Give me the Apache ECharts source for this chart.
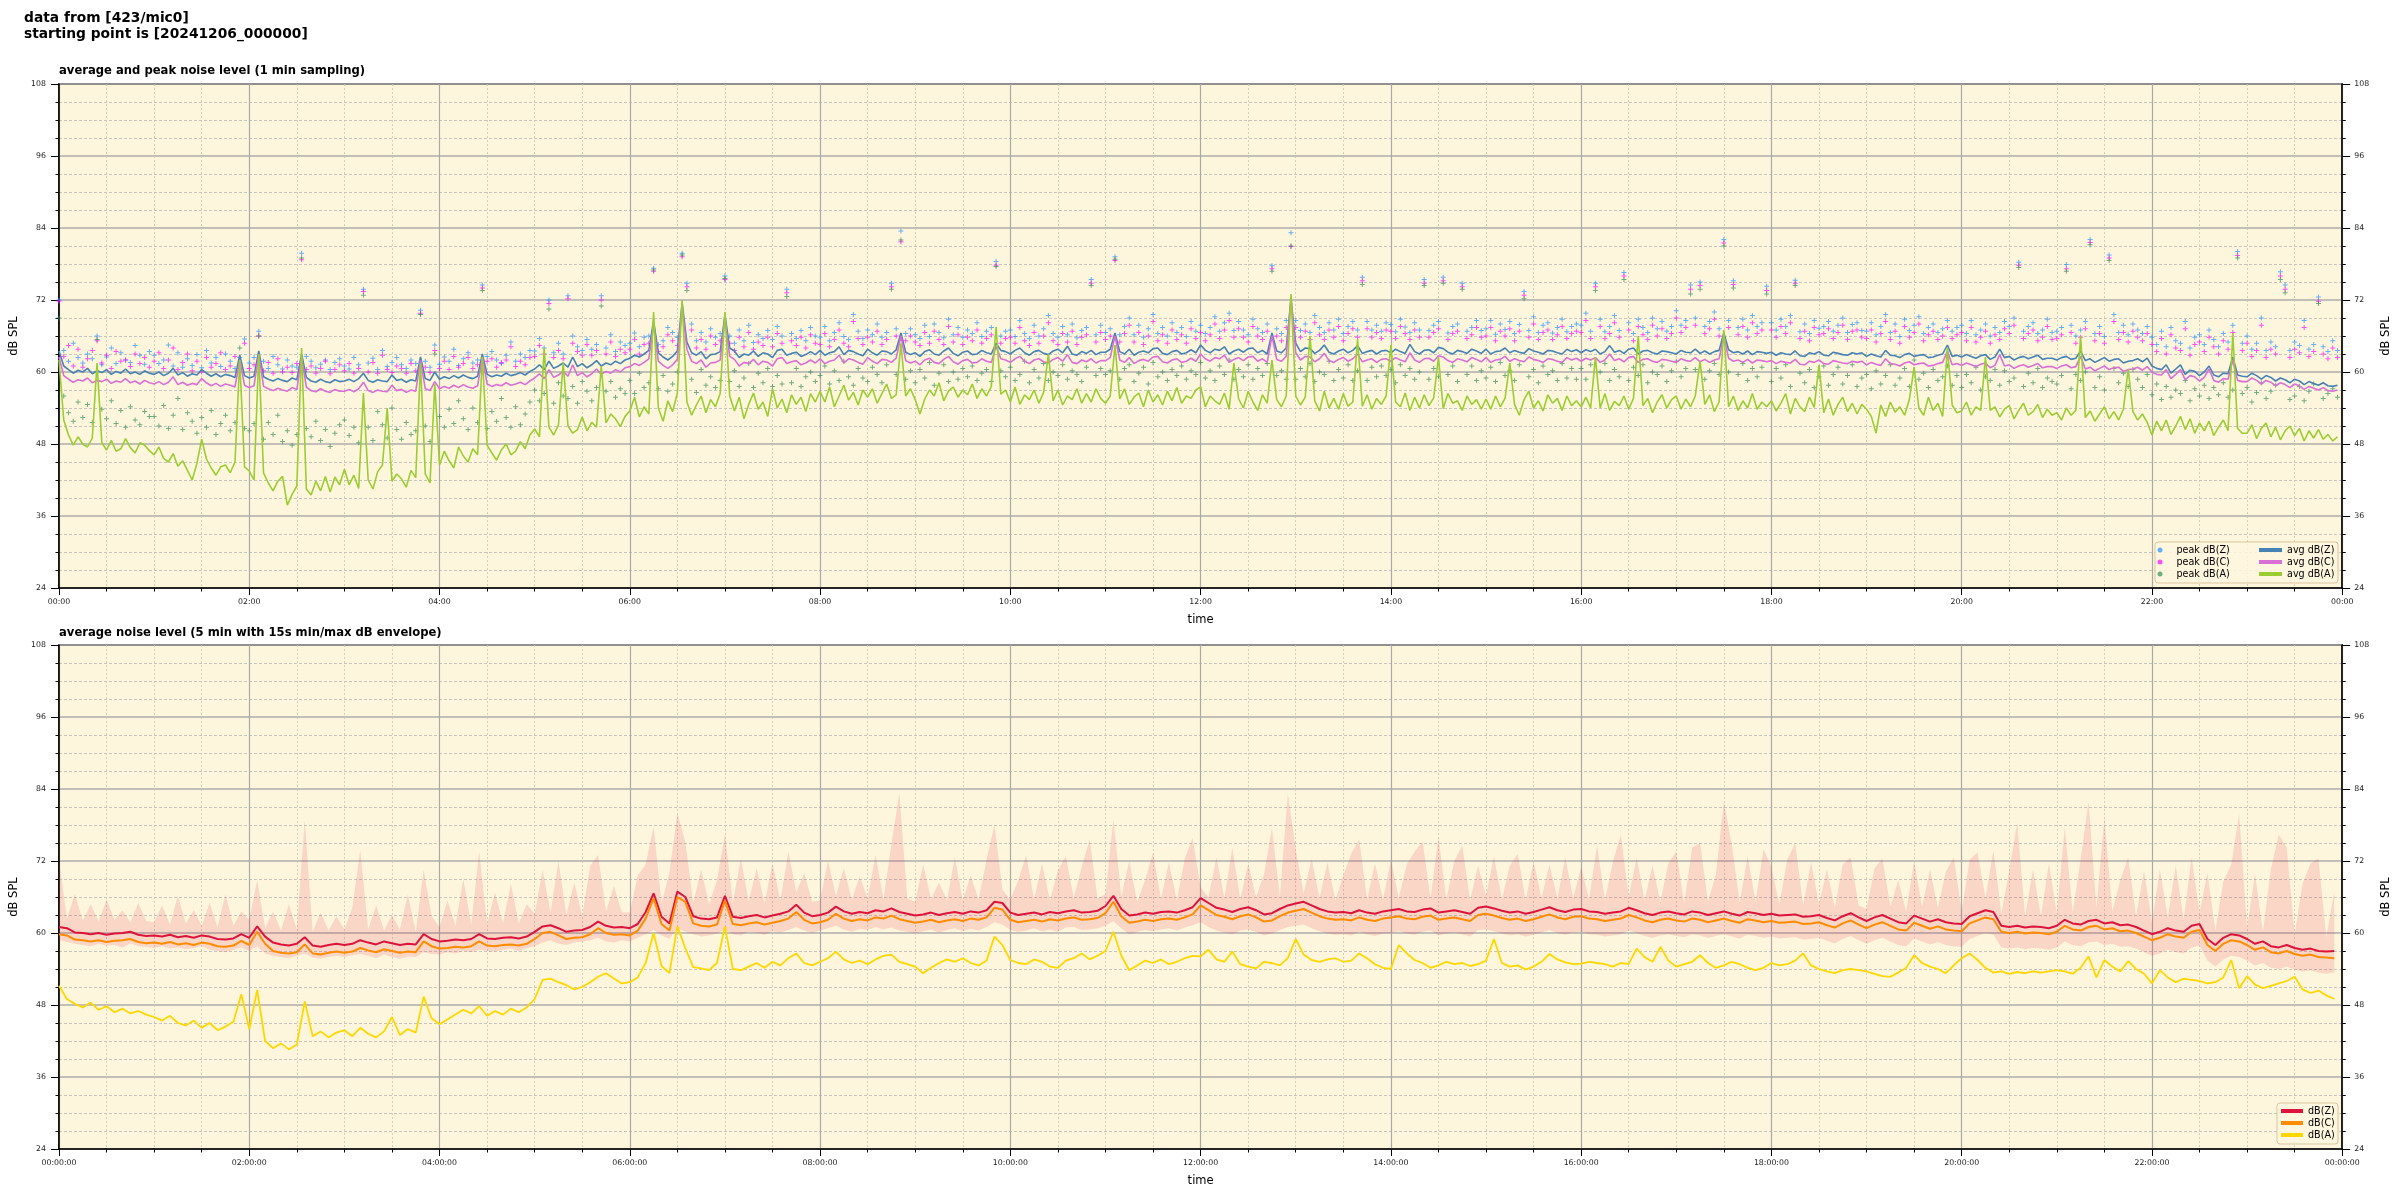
<!DOCTYPE html>
<html><head><meta charset="utf-8">
<script src="https://cdn.jsdelivr.net/npm/echarts/dist/echarts.min.js"></script>
<style>html,body{margin:0;padding:0;background:#fff}#c{width:2400px;height:1200px}</style>
</head><body><div id="c"></div>
<script>
const FONT = 'DejaVu Sans';
const mainTitle = 'data from [423/mic0]\nstarting point is [20241206_000000]';
const topTitle = 'average and peak noise level (1 min sampling)';
const bottomTitle = 'average noise level (5 min with 15s min/max dB envelope)';
const xLabelsTop = ['00:00','02:00','04:00','06:00','08:00','10:00','12:00','14:00','16:00','18:00','20:00','22:00','00:00'];
const xLabelsBottom = ['00:00:00','02:00:00','04:00:00','06:00:00','08:00:00','10:00:00','12:00:00','14:00:00','16:00:00','18:00:00','20:00:00','22:00:00','00:00:00'];
const yMin = 24, yMax = 108, yStep = 12;

// ---- top chart: readings every 3 min (one row per hour) ----
const avgZ = [
[63.5,61.0,60.4,59.8,60.3,60.0,60.6,59.7,60.2,59.9,60.4,59.6,60.1,59.8,60.5,59.7,60.0,59.6,60.2,59.8],
[59.6,60.0,59.4,59.8,60.6,59.5,59.9,59.3,59.7,59.5,60.4,59.8,59.3,59.7,59.2,59.6,59.4,59.1,62.8,59.4],
[59.0,59.3,63.5,59.2,58.8,58.5,58.9,58.6,58.4,59.0,58.7,63.0,59.1,58.5,58.3,58.8,58.4,58.2,58.7,58.4],
[58.5,58.8,58.4,58.9,59.8,58.6,58.3,58.7,58.5,58.4,59.5,58.6,58.8,58.3,58.7,58.5,62.5,58.9,58.6,60.0],
[58.8,59.2,58.9,59.4,59.0,59.5,59.1,58.9,59.3,63.0,59.6,59.2,59.5,59.3,59.8,59.4,59.6,59.9,59.5,60.1],
[60.5,61.2,60.4,61.8,60.6,61.0,61.5,60.8,62.5,60.9,61.4,60.7,61.2,61.9,61.0,61.5,61.2,61.8,61.4,62.0],
[62.3,62.8,62.5,63.0,63.6,68.5,63.2,62.5,62.0,62.6,63.5,71.5,65.0,63.2,62.8,63.4,62.2,62.9,63.0,63.4],
[69.5,64.0,63.5,62.4,63.0,62.8,63.5,62.6,63.2,63.0,62.4,63.6,63.8,62.8,63.1,63.3,62.6,62.9,63.4,62.9],
[63.6,62.8,63.2,63.4,64.2,62.9,63.6,63.4,63.0,62.7,63.8,63.2,62.8,63.5,63.4,63.0,63.7,66.5,63.3,62.9],
[63.2,62.6,63.4,63.7,63.0,62.8,63.5,64.0,63.1,62.7,63.3,63.5,62.9,63.0,63.6,63.2,63.0,64.8,63.6,63.4],
[63.0,63.6,64.0,63.2,62.8,63.4,63.6,63.1,62.9,63.5,63.8,63.2,64.3,63.0,62.8,63.4,63.1,63.6,62.9,63.3],
[63.3,63.8,66.5,63.4,63.0,63.8,62.8,63.3,63.5,63.2,63.9,64.0,63.1,62.9,63.4,63.6,63.0,63.2,63.7,63.2],
[64.5,63.6,63.2,63.8,63.6,64.2,63.0,63.5,63.8,63.3,63.9,64.0,63.2,63.6,63.0,66.5,63.5,63.2,64.0,72.0],
[64.8,63.4,64.0,63.9,63.1,63.6,64.5,63.3,63.0,63.5,63.8,63.2,63.6,64.4,63.1,63.4,63.6,63.0,63.5,63.6],
[63.2,63.8,63.4,63.1,64.6,63.4,63.0,63.6,63.7,63.2,64.1,63.9,63.3,63.0,63.6,63.4,63.1,63.8,63.5,63.1],
[63.8,63.0,63.4,63.5,64.0,63.2,63.6,63.3,63.1,63.9,63.5,63.3,63.0,63.6,63.5,63.2,63.0,63.8,63.4,63.7],
[63.2,63.7,63.4,63.8,63.0,63.4,64.4,63.3,63.6,63.1,63.8,64.0,63.0,63.5,63.6,63.2,63.0,63.5,63.4,63.2],
[63.0,63.6,63.3,63.2,63.8,63.1,63.5,63.0,63.4,63.6,66.5,63.7,63.2,63.4,63.0,63.5,62.9,63.4,63.3,63.1],
[63.3,62.8,63.2,63.0,62.9,63.5,62.7,62.6,63.2,63.0,63.4,62.8,62.7,63.3,63.1,62.9,62.8,63.2,63.0,63.2],
[62.6,63.0,62.7,62.5,63.6,62.8,62.7,62.4,62.9,63.1,62.6,62.8,62.9,62.4,62.5,62.8,63.0,64.5,62.6,62.8],
[62.5,62.9,62.6,62.3,62.7,62.9,62.1,62.5,63.8,62.4,62.6,62.0,62.4,62.6,62.2,62.5,62.8,62.1,62.3,62.3],
[62.0,62.4,62.6,62.1,62.3,63.5,61.9,62.2,61.6,62.0,62.4,61.8,62.1,62.2,61.5,61.8,61.9,62.2,61.7,62.3],
[61.0,60.6,60.4,61.2,59.8,60.5,61.2,59.6,60.3,60.1,59.4,60.0,61.0,59.5,59.2,59.8,59.7,62.5,59.5,59.3],
[59.2,59.8,59.4,58.8,59.4,59.1,58.5,59.0,58.7,58.2,58.8,58.5,57.9,58.4,58.1,57.8,58.2,57.7,57.6,57.8]];
const avgC = [
[62.5,59.4,58.8,58.3,58.7,58.5,59.0,58.2,58.6,58.4,58.8,58.1,58.5,58.3,58.9,58.2,58.5,58.0,58.6,58.2],
[58.0,58.4,57.9,58.3,59.2,57.9,58.3,57.8,58.1,57.9,58.9,58.2,57.7,58.1,57.6,58.0,57.8,57.5,62.0,57.8],
[57.4,57.7,63.0,57.6,57.2,56.9,57.3,57.0,56.8,57.4,57.1,62.5,57.5,56.9,56.7,57.2,56.8,56.6,57.1,56.8],
[56.8,57.1,56.7,57.2,58.3,56.9,56.6,57.0,56.8,56.7,57.8,56.9,57.1,56.6,57.0,56.8,62.0,57.2,56.9,58.4],
[57.2,57.6,57.3,57.8,57.4,57.9,57.5,57.3,57.7,62.5,58.0,57.6,57.9,57.7,58.2,57.8,58.0,58.3,57.9,58.5],
[59.0,59.7,58.9,60.4,59.1,59.5,60.1,59.3,61.2,59.4,59.9,59.2,59.7,60.5,59.6,60.1,59.8,60.4,60.0,60.7],
[60.9,61.4,61.1,61.6,62.2,68.0,61.8,61.1,60.6,61.2,62.1,71.0,63.8,61.8,61.4,62.0,60.8,61.5,61.6,62.0],
[69.0,62.6,62.1,61.0,61.6,61.4,62.1,61.2,61.8,61.6,61.0,62.2,62.4,61.4,61.7,61.9,61.2,61.5,62.0,61.5],
[62.2,61.4,61.8,62.0,62.8,61.5,62.2,62.0,61.6,61.3,62.4,61.8,61.4,62.1,62.0,61.6,62.3,66.0,61.9,61.5],
[61.8,61.2,62.0,62.3,61.6,61.4,62.1,62.6,61.7,61.3,61.9,62.1,61.5,61.6,62.2,61.8,61.6,64.3,62.2,62.0],
[61.6,62.2,62.6,61.8,61.4,62.0,62.2,61.7,61.5,62.1,62.4,61.8,62.9,61.6,61.4,62.0,61.7,62.2,61.5,61.9],
[61.9,62.4,66.0,62.0,61.6,62.4,61.4,61.9,62.1,61.8,62.5,62.6,61.7,61.5,62.0,62.2,61.6,61.8,62.3,61.8],
[63.0,62.2,61.8,62.4,62.2,62.8,61.6,62.1,62.4,61.9,62.5,62.6,61.8,62.2,61.6,66.0,62.1,61.8,62.6,72.5],
[63.2,62.0,62.6,62.5,61.7,62.2,63.1,61.9,61.6,62.1,62.4,61.8,62.2,63.0,61.7,62.0,62.2,61.6,62.1,62.2],
[61.8,62.4,62.0,61.7,63.2,62.0,61.6,62.2,62.3,61.8,62.7,62.5,61.9,61.6,62.2,62.0,61.7,62.4,62.1,61.7],
[62.4,61.6,62.0,62.1,62.6,61.8,62.2,61.9,61.7,62.5,62.1,61.9,61.6,62.2,62.1,61.8,61.6,62.4,62.0,62.3],
[61.8,62.3,62.0,62.4,61.6,62.0,63.0,61.9,62.2,61.7,62.4,62.6,61.6,62.1,62.2,61.8,61.6,62.1,62.0,61.8],
[61.6,62.2,61.9,61.8,62.4,61.7,62.1,61.6,62.0,62.2,66.0,62.3,61.8,62.0,61.6,62.1,61.5,62.0,61.9,61.7],
[61.9,61.4,61.8,61.6,61.5,62.1,61.3,61.2,61.8,61.6,62.0,61.4,61.3,61.9,61.7,61.5,61.4,61.8,61.6,61.8],
[61.2,61.6,61.3,61.1,62.2,61.4,61.3,61.0,61.5,61.7,61.2,61.4,61.5,61.0,61.1,61.4,61.6,63.5,61.2,61.4],
[61.1,61.5,61.2,60.9,61.3,61.5,60.7,61.1,62.9,61.0,61.2,60.6,61.0,61.2,60.8,61.1,61.4,60.7,60.9,60.9],
[60.6,61.0,61.2,60.7,60.9,62.6,60.5,60.8,60.2,60.6,61.0,60.4,60.7,60.8,60.1,60.4,60.5,60.8,60.3,60.9],
[60.0,59.6,59.5,60.4,58.9,59.6,60.4,58.7,59.4,59.2,58.5,59.1,60.5,58.6,58.3,58.9,58.8,62.0,58.6,58.4],
[58.4,59.0,58.6,58.0,58.6,58.3,57.7,58.2,57.9,57.4,58.0,57.7,57.1,57.6,57.3,57.0,57.4,56.9,56.8,57.0]];
const avgA = [
[62.0,52.0,49.5,47.8,49.2,48.0,47.5,49.0,61.5,48.2,47.0,48.6,46.8,47.2,48.9,47.4,46.5,48.2,47.8,46.9],
[46.2,47.5,45.6,45.0,46.4,44.3,45.2,43.6,42.0,44.8,48.8,45.5,44.0,42.8,44.2,44.5,43.2,45.0,62.0,44.2],
[43.5,42.0,63.0,43.2,41.5,40.2,41.8,42.6,37.8,39.6,41.0,64.0,40.5,39.5,41.8,40.2,42.6,40.0,42.5,41.2],
[43.8,41.2,42.8,40.6,56.5,42.0,40.5,43.4,44.5,54.0,41.8,43.0,42.2,40.8,43.6,42.4,61.5,43.0,41.5,58.0],
[44.5,46.8,45.2,44.0,47.5,46.0,45.0,47.2,46.2,62.5,47.8,46.5,45.3,47.0,48.0,46.2,46.8,48.4,47.2,49.5],
[50.5,49.2,64.0,50.8,49.5,51.2,61.5,51.0,49.8,50.4,52.5,50.2,51.6,50.8,61.0,51.5,53.0,52.2,50.9,52.6],
[53.5,55.8,52.5,54.2,53.0,70.0,54.0,51.8,55.2,53.4,56.5,72.0,55.0,52.8,54.5,56.0,53.2,55.4,54.2,56.4],
[70.0,56.0,53.5,55.8,52.2,54.6,56.5,53.8,55.0,52.6,57.2,54.0,55.5,53.2,56.2,54.6,55.8,53.4,56.4,55.0],
[56.8,55.0,57.5,54.2,56.0,57.8,55.3,56.6,54.5,57.0,55.8,57.2,54.8,56.4,58.0,55.6,56.2,64.8,56.0,57.2],
[55.4,53.0,55.5,57.0,56.0,58.2,55.2,56.8,57.5,55.8,57.0,56.2,58.0,55.6,57.2,56.0,57.6,67.5,56.3,57.0],
[55.0,57.5,54.6,56.2,55.4,57.0,54.8,56.6,63.0,55.2,57.0,54.5,56.0,55.4,57.2,54.8,56.4,55.0,57.2,55.6],
[54.8,56.0,64.5,55.5,57.2,54.6,55.8,56.5,54.2,57.0,55.0,56.2,54.5,56.8,55.2,57.4,54.8,56.0,55.6,57.0],
[57.5,54.2,56.0,55.2,54.6,56.5,53.8,61.5,55.5,54.0,56.8,55.0,53.6,56.2,54.8,62.0,55.4,54.2,56.0,73.0],
[56.0,54.5,55.8,66.0,55.2,53.5,56.8,54.0,55.6,53.8,56.4,54.3,55.0,65.5,54.3,56.2,53.8,55.6,54.6,56.0],
[64.5,55.0,54.2,56.5,53.6,55.8,54.0,56.2,54.4,55.7,62.5,53.9,56.4,54.8,55.2,53.6,56.0,54.6,55.4,53.8],
[55.5,53.8,56.0,54.2,55.6,61.5,54.6,52.8,55.4,56.8,54.0,55.2,53.5,56.2,54.8,55.6,53.6,56.0,54.4,55.2],
[54.2,55.8,54.0,62.5,54.0,56.4,53.6,55.1,54.4,56.0,53.8,55.6,66.0,54.4,55.6,53.2,55.0,56.2,54.0,55.4],
[56.0,53.8,55.5,54.2,56.0,61.8,54.6,56.2,53.4,55.0,67.0,54.2,56.0,53.6,55.2,54.0,56.4,53.8,55.0,54.2],
[55.2,53.5,54.8,56.4,53.0,55.6,54.2,53.4,55.8,54.1,61.2,53.2,55.5,52.8,54.6,55.8,53.4,54.8,53.0,54.6],
[53.8,52.6,49.8,54.5,52.6,55.0,53.3,54.2,52.8,55.4,60.8,54.0,52.8,55.8,53.6,54.8,52.6,64.0,54.5,53.2],
[53.5,55.0,52.8,54.2,53.6,62.5,53.6,54.2,52.5,53.8,54.4,52.2,53.6,54.8,52.8,53.4,54.6,52.4,53.8,52.8],
[53.2,52.0,54.0,52.8,53.6,66.0,52.4,53.5,51.8,53.0,54.2,52.2,53.4,52.0,53.8,60.5,53.4,52.0,53.0,51.6],
[49.5,51.8,50.2,52.0,49.6,51.0,52.6,50.4,52.2,49.8,51.5,50.2,51.8,49.4,50.8,52.0,50.2,66.5,50.6,49.8],
[49.8,51.2,48.9,50.6,51.5,49.2,50.8,48.7,50.2,51.0,49.4,50.6,48.5,50.2,49.0,50.4,48.8,49.6,48.5,49.2]];
const peakZ = [
[72.0,63.6,61.8,64.8,62.4,61.5,63.0,62.2,66.0,61.2,62.5,64.0,61.4,63.2,62.0,61.6,64.4,62.8,61.3,63.4],
[62.8,61.4,62.0,64.5,61.0,63.2,60.8,62.2,61.1,62.9,60.7,63.6,61.5,62.4,60.9,63.0,61.8,60.6,62.4,65.5],
[61.5,62.4,66.8,61.8,60.6,62.6,61.2,60.5,62.0,61.0,60.8,79.8,62.6,61.8,60.7,61.3,62.0,60.4,61.6,62.2],
[61.0,60.5,62.4,61.2,73.8,61.5,62.3,60.4,63.6,60.9,61.6,62.4,61.2,60.6,62.0,61.4,70.3,61.8,60.8,64.5],
[61.3,62.5,61.8,63.8,61.1,62.2,63.2,61.5,62.0,74.5,62.6,63.4,62.0,61.4,62.8,65.0,61.8,63.0,62.4,63.6],
[63.5,65.6,64.0,72.0,63.2,64.8,63.0,72.7,66.0,64.2,63.6,65.4,63.8,64.6,72.7,64.0,66.2,63.4,65.0,64.4],
[64.8,66.5,64.2,65.8,66.0,77.3,64.6,65.2,67.4,66.6,65.8,79.8,74.8,68.0,65.2,66.6,65.0,67.2,65.8,66.4],
[76.0,66.0,64.8,67.0,65.2,67.8,64.9,66.2,65.6,66.9,65.4,67.6,66.0,73.8,66.4,65.6,66.9,65.2,67.4,66.0],
[65.8,67.6,65.2,66.6,68.2,65.9,65.4,69.6,66.8,65.6,67.0,66.2,68.0,65.8,66.6,74.8,67.2,83.5,66.4,67.2],
[66.2,65.6,67.8,65.9,68.0,66.6,65.7,68.8,66.2,67.4,65.8,67.0,66.4,68.2,65.9,66.8,67.4,78.4,66.0,66.8],
[67.0,65.9,68.6,66.4,65.6,67.8,66.0,67.2,69.4,66.4,65.8,67.6,66.2,68.0,65.7,66.9,67.4,75.4,66.2,67.8],
[66.6,67.2,79.2,66.2,67.6,69.0,66.2,67.8,65.8,67.2,69.6,66.4,67.4,66.0,68.2,66.6,67.4,65.9,68.4,66.8],
[67.8,66.4,67.4,69.2,66.8,68.2,69.8,66.9,68.4,67.0,66.2,68.8,67.2,66.6,68.0,77.7,67.2,66.4,68.6,83.2],
[68.6,66.9,68.0,66.6,69.4,67.4,66.6,68.2,67.0,68.8,66.4,67.6,68.4,67.0,75.8,68.4,67.0,67.8,66.8,68.2],
[67.9,66.7,68.8,67.5,66.6,68.2,67.0,75.4,66.9,67.8,68.4,75.8,66.5,67.6,68.0,74.8,66.8,67.4,68.6,66.9],
[67.2,68.6,66.3,68.0,67.1,68.4,66.4,67.9,73.4,66.9,69.2,66.6,67.8,68.2,66.5,67.4,68.8,66.7,67.6,68.0],
[67.8,69.8,66.8,74.8,68.8,66.7,67.6,69.4,66.9,76.6,68.2,66.4,68.8,67.4,66.6,69.0,67.2,68.4,66.8,67.6],
[70.2,67.8,68.6,74.5,69.0,75.0,67.6,68.4,70.0,67.2,82.1,68.6,75.2,67.4,68.8,67.0,69.4,67.6,68.2,74.3],
[68.2,67.0,68.8,67.6,69.4,75.3,66.7,68.0,66.4,68.6,67.3,67.6,68.4,66.8,67.8,69.0,66.6,67.9,68.2,66.9],
[66.8,68.2,66.2,67.6,69.6,66.6,68.0,65.9,68.8,66.9,67.8,69.2,66.4,67.4,68.0,66.6,67.2,68.6,66.8,67.4],
[67.8,66.4,68.6,66.2,67.0,68.0,66.0,67.4,66.6,68.4,67.6,69.0,78.3,66.8,67.6,68.2,66.4,67.0,68.8,66.6],
[66.8,67.4,77.9,67.8,66.0,67.0,68.4,82.1,66.4,67.6,65.9,79.5,69.6,66.6,67.8,66.2,68.0,67.0,66.4,67.6],
[65.8,64.6,66.8,64.2,67.4,65.2,64.8,68.4,64.0,65.8,66.2,64.6,67.0,65.4,64.2,66.4,65.0,67.8,80.1,64.8],
[66.0,63.8,64.8,69.0,63.6,65.0,64.2,76.7,74.5,63.6,65.0,64.4,68.6,63.8,64.6,72.5,64.2,63.4,65.2,63.6]];
const peakC = [
[71.8,62.6,64.4,61.0,63.8,60.8,62.2,63.6,65.2,61.5,62.8,60.6,63.4,61.8,62.0,60.9,63.0,61.4,62.4,60.8],
[61.8,63.2,60.6,62.0,64.0,60.4,61.6,63.0,60.2,61.8,60.0,62.4,60.8,61.4,63.2,60.4,61.0,62.6,60.6,64.8],
[60.6,61.2,66.0,60.2,61.6,59.8,62.2,60.0,60.8,59.9,61.4,78.7,60.4,61.0,59.8,60.6,61.8,59.7,60.4,61.2],
[60.2,61.4,59.8,60.6,73.4,60.0,61.6,59.8,62.8,60.4,59.9,61.0,60.6,59.8,61.4,60.2,69.8,60.8,59.9,63.6],
[60.6,61.8,60.4,62.6,60.8,61.4,62.4,60.6,61.2,74.0,61.8,62.2,60.8,61.6,62.0,64.2,60.9,61.8,61.2,62.4],
[62.6,64.4,63.0,71.4,62.4,63.6,62.2,72.2,64.8,63.4,62.8,64.6,62.8,63.6,72.0,63.0,65.0,62.6,63.8,63.2],
[63.8,65.4,63.0,64.6,64.8,76.8,63.4,64.2,66.2,65.2,64.4,79.2,74.2,67.0,64.0,65.4,63.8,66.0,64.6,65.2],
[75.4,64.8,63.6,65.8,64.2,66.6,63.8,65.0,64.4,65.8,64.2,66.4,64.8,73.2,65.2,64.4,65.8,64.0,66.2,64.8],
[64.6,66.4,64.2,65.4,67.0,64.8,64.2,68.4,65.6,64.6,65.8,65.0,66.8,64.6,65.4,74.2,66.0,81.7,65.2,66.0],
[65.0,64.4,66.6,64.8,66.8,65.4,64.6,67.6,65.0,66.2,64.6,65.8,65.2,67.0,64.8,65.6,66.2,77.8,64.8,65.6],
[65.8,64.8,67.4,65.2,64.4,66.6,64.8,66.0,68.2,65.2,64.6,66.4,65.0,66.8,64.6,65.8,66.2,74.8,65.0,66.6],
[65.4,66.0,78.6,65.0,66.4,67.8,65.0,66.6,64.6,66.0,68.4,65.2,66.2,64.8,67.0,65.4,66.2,64.8,67.2,65.6],
[66.6,65.2,66.2,68.0,65.6,67.0,68.6,65.8,67.2,65.8,65.0,67.6,66.0,65.4,66.8,77.2,66.0,65.2,67.4,80.9],
[67.4,65.8,66.8,65.4,68.2,66.2,65.4,67.0,65.8,67.6,65.2,66.4,67.2,65.8,75.2,67.2,65.8,66.6,65.6,67.0],
[66.8,65.6,67.6,66.4,65.4,67.0,65.8,74.8,65.8,66.6,67.2,75.2,65.4,66.4,66.8,74.2,65.6,66.2,67.4,65.8],
[66.0,67.4,65.2,66.8,66.0,67.2,65.2,66.8,72.8,65.8,68.0,65.4,66.6,67.0,65.4,66.2,67.6,65.6,66.4,66.8],
[66.6,68.6,65.6,74.2,67.6,65.6,66.4,68.2,65.8,76.0,67.0,65.2,67.6,66.2,65.4,67.8,66.0,67.2,65.6,66.4],
[69.0,66.6,67.4,73.8,67.8,74.4,66.4,67.2,68.8,66.0,81.5,67.4,74.6,66.2,67.6,65.8,68.2,66.4,67.0,73.6],
[67.0,65.8,67.6,66.4,68.2,74.8,65.6,66.8,65.2,67.4,66.2,66.4,67.2,65.6,66.6,67.8,65.4,66.8,67.0,65.8],
[65.6,67.0,65.0,66.4,68.4,65.4,66.8,64.8,67.6,65.8,66.6,68.0,65.2,66.2,66.8,65.4,66.0,67.4,65.6,66.2],
[66.6,65.2,67.4,65.0,65.8,66.8,64.8,66.2,65.4,67.2,66.4,67.8,77.8,65.6,66.4,67.0,65.2,65.8,67.6,65.4],
[65.6,66.2,77.2,66.6,64.8,65.8,67.2,81.6,65.2,66.4,64.8,79.0,68.4,65.4,66.6,65.0,66.8,65.8,65.2,66.4],
[64.6,63.4,65.6,63.0,66.2,64.0,63.6,67.2,62.8,64.6,65.0,63.4,65.8,64.2,63.0,65.2,63.8,66.6,79.4,63.6],
[64.8,62.6,63.6,67.8,62.4,63.8,63.0,76.0,73.8,62.4,63.8,63.2,67.4,62.6,63.4,71.8,63.0,62.2,64.0,62.4]];
const peakA = [
[69.0,56.0,53.2,51.8,55.0,52.4,54.6,51.6,65.4,53.8,52.2,55.2,51.4,53.6,50.8,54.2,52.0,51.2,53.4,52.6],
[52.6,51.0,54.4,50.6,52.8,55.6,50.4,53.2,51.8,49.8,52.4,50.8,53.6,49.6,51.4,52.8,50.2,51.6,64.0,50.6],
[50.2,51.4,66.0,48.8,51.6,49.6,52.8,48.4,50.2,47.8,49.6,79.0,50.6,49.2,51.8,48.6,50.4,47.6,49.8,51.2],
[52.0,49.4,50.8,48.2,72.8,50.8,48.6,53.4,51.2,49.0,54.0,50.4,48.8,51.6,49.6,50.2,69.6,51.0,48.4,63.0],
[52.6,50.8,53.8,51.4,55.2,52.2,50.4,54.0,51.6,73.6,50.6,53.4,51.8,55.6,52.4,50.8,54.2,51.2,53.0,55.0],
[57.0,55.2,56.4,70.5,54.8,58.2,56.0,55.6,57.6,54.8,58.4,56.8,55.2,57.4,71.0,56.8,58.4,55.8,57.2,56.4],
[58.6,56.4,59.8,57.4,58.2,77.0,57.2,59.4,56.8,58.0,60.0,79.5,73.6,58.8,56.6,60.4,57.8,59.2,57.4,58.6],
[75.6,58.4,60.2,57.6,59.0,61.4,57.4,59.8,58.2,60.6,57.6,59.4,58.0,72.6,58.2,60.6,57.6,59.2,60.0,58.4],
[59.4,61.0,58.0,60.2,58.6,61.8,59.2,57.8,60.6,59.0,58.4,60.8,59.6,58.2,61.2,73.8,59.6,82.0,58.8,60.2],
[58.2,60.4,59.0,61.6,57.8,59.8,61.2,58.4,60.0,58.8,60.6,59.2,61.0,58.6,59.8,60.4,58.4,77.6,60.2,59.2],
[60.8,58.6,59.6,61.8,58.2,60.4,59.0,61.4,58.6,60.0,59.4,61.2,58.8,60.2,59.6,58.4,60.8,74.4,59.4,60.6],
[59.6,60.2,78.8,58.8,60.6,61.2,58.4,59.8,60.8,58.0,61.6,59.2,60.0,58.6,60.4,59.4,61.0,58.8,60.2,59.6],
[61.6,59.0,60.2,58.6,61.0,59.6,62.0,58.8,60.4,59.2,61.2,58.8,60.6,59.4,61.4,76.8,59.4,60.2,58.8,81.0],
[58.8,60.6,59.2,61.4,58.4,60.0,59.6,61.8,58.6,60.4,59.0,61.2,58.6,60.2,74.6,58.6,60.8,59.2,61.0,59.4],
[60.4,58.2,61.2,59.4,60.6,58.8,60.0,74.4,58.8,60.6,59.2,74.8,59.6,61.0,58.4,73.8,59.6,61.0,58.6,60.2],
[59.0,60.8,58.4,61.6,59.4,60.2,58.6,61.2,72.2,59.2,60.4,58.2,61.0,59.6,60.2,58.6,61.4,59.0,60.6,58.8],
[60.6,58.8,61.2,73.6,60.0,61.4,58.6,60.4,59.2,75.4,58.6,60.8,59.4,61.2,58.2,60.0,59.6,61.0,58.4,60.2],
[61.8,59.2,60.6,73.0,60.4,73.8,58.8,60.2,61.4,59.6,81.0,60.0,74.0,59.6,61.4,58.6,60.6,59.2,60.8,73.0],
[58.4,60.6,59.0,61.2,57.6,74.4,59.8,58.2,60.4,57.4,59.2,61.0,57.8,59.6,60.8,58.0,59.4,61.2,57.6,59.0],
[59.6,57.2,60.2,58.0,59.4,61.2,57.8,59.0,60.6,57.6,62.0,58.8,59.8,57.4,60.4,58.6,59.2,61.0,57.8,59.4],
[57.4,59.6,58.2,60.8,57.0,59.2,58.6,60.4,57.8,60.2,58.4,59.0,77.4,57.6,59.8,58.2,60.6,57.4,59.0,58.4],
[58.0,59.4,76.8,57.2,59.6,58.6,60.0,81.2,57.4,59.2,57.0,78.6,60.6,58.2,59.8,57.6,60.4,58.8,57.4,59.6],
[56.2,58.0,55.4,57.6,55.8,57.0,56.4,58.6,55.2,57.2,56.0,57.8,55.6,57.4,56.2,58.2,55.8,57.0,79.0,56.4],
[57.4,55.0,56.6,58.2,55.6,56.8,57.8,75.4,73.2,55.4,56.0,57.6,55.2,56.8,58.0,71.4,55.6,56.4,57.2,55.8]];

// ---- bottom chart: 5-min averages and 15s min/max envelope (one row per hour) ----
const dbZ = [
[61.0,60.8,60.1,60.0,59.8,60.0,59.7,59.9,60.0,60.2,59.7,59.5],
[59.6,59.4,59.7,59.3,59.5,59.2,59.6,59.4,59.0,58.9,59.1,59.8],
[59.2,61.1,59.4,58.4,58.1,57.9,58.2,59.3,57.9,57.7,58.0,58.2],
[58.0,58.2,58.8,58.4,58.1,58.6,58.3,58.0,58.2,58.1,59.8,59.0],
[58.6,58.7,58.9,58.8,59.0,59.8,59.1,59.0,59.2,59.3,59.1,59.4],
[60.2,61.1,61.3,60.8,60.2,60.4,60.5,61.0,61.9,61.2,60.9,61.0],
[60.8,61.5,63.5,66.6,62.7,61.6,66.9,66.0,62.8,62.4,62.3,62.6],
[66.2,62.7,62.5,62.8,63.0,62.6,62.9,63.2,63.6,64.7,63.4,62.8],
[63.0,63.4,64.4,63.6,63.2,63.5,63.3,63.8,63.6,64.1,63.5,63.2],
[62.9,63.1,63.4,63.0,63.3,63.5,63.2,63.6,63.4,63.8,65.2,65.0],
[63.4,63.0,63.2,63.4,63.1,63.5,63.3,63.6,63.8,63.4,63.5,63.7],
[64.5,66.2,64.0,62.9,63.1,63.4,63.2,63.5,63.6,63.4,63.8,64.3],
[65.8,65.0,64.2,63.9,63.5,64.0,64.3,63.8,63.1,63.3,64.0,64.6],
[64.9,65.2,64.6,64.0,63.6,63.4,63.5,63.3,63.8,63.4,63.2,63.6],
[63.8,64.0,63.6,63.5,63.9,64.1,63.4,63.6,63.8,63.5,63.2,64.2],
[64.4,64.1,63.7,63.4,63.6,63.2,63.5,63.9,64.3,63.8,63.5,63.9],
[64.0,63.6,63.5,63.2,63.4,63.6,64.2,63.8,63.3,63.0,63.4,63.6],
[63.3,63.1,63.6,63.4,63.0,63.3,63.6,63.2,62.9,63.5,63.3,63.0],
[63.2,62.9,63.0,63.1,62.7,62.8,63.0,62.5,62.1,62.8,63.3,62.6],
[62.0,62.6,63.0,62.4,61.8,61.6,62.9,62.4,61.9,62.3,61.8,61.6],
[61.5,62.8,63.3,63.8,63.5,61.2,61.0,61.2,60.9,61.1,61.0,60.8],
[61.2,62.2,61.6,61.4,62.0,62.2,61.6,61.8,61.3,61.4,61.0,60.4],
[59.8,60.2,60.8,60.4,60.2,61.2,61.5,59.0,58.0,59.2,59.8,59.6],
[59.0,58.2,58.6,57.8,57.6,58.0,57.5,57.2,57.4,57.0,56.9,57.0]];
const dbC = [
[59.8,59.6,58.9,58.8,58.6,58.8,58.5,58.7,58.8,59.0,58.5,58.3],
[58.4,58.2,58.5,58.1,58.3,58.0,58.4,58.2,57.8,57.7,57.9,58.7],
[58.0,60.2,58.2,57.0,56.7,56.6,56.8,58.1,56.6,56.4,56.7,56.9],
[56.7,56.9,57.5,57.1,56.8,57.3,57.0,56.7,56.9,56.8,58.6,57.8],
[57.4,57.5,57.7,57.6,57.8,58.6,57.9,57.8,58.0,58.1,57.9,58.2],
[59.0,60.0,60.2,59.6,59.0,59.2,59.3,59.8,60.8,60.0,59.7,59.8],
[59.6,60.4,62.4,65.8,61.5,60.4,66.0,65.2,61.6,61.2,61.1,61.4],
[65.4,61.5,61.3,61.6,61.8,61.4,61.7,62.0,62.4,63.5,62.2,61.6],
[61.8,62.2,63.2,62.4,62.0,62.3,62.1,62.6,62.4,62.9,62.3,62.0],
[61.7,61.9,62.2,61.8,62.1,62.3,62.0,62.4,62.2,62.6,64.2,63.9],
[62.2,61.8,62.0,62.2,61.9,62.3,62.1,62.4,62.6,62.2,62.3,62.5],
[63.3,65.2,62.8,61.7,61.9,62.2,62.0,62.3,62.4,62.2,62.6,63.1],
[64.6,63.8,63.0,62.7,62.3,62.8,63.1,62.6,61.9,62.1,62.8,63.4],
[63.7,64.0,63.4,62.8,62.4,62.2,62.3,62.1,62.6,62.2,62.0,62.4],
[62.6,62.8,62.4,62.3,62.7,62.9,62.2,62.4,62.6,62.3,62.0,63.0],
[63.2,62.9,62.5,62.2,62.4,62.0,62.3,62.7,63.1,62.6,62.3,62.7],
[62.8,62.4,62.3,62.0,62.2,62.4,63.0,62.6,62.1,61.8,62.2,62.4],
[62.1,61.9,62.4,62.2,61.8,62.1,62.4,62.0,61.7,62.3,62.1,61.8],
[62.0,61.7,61.8,61.9,61.5,61.6,61.8,61.3,60.9,61.6,62.1,61.4],
[60.8,61.4,61.8,61.2,60.6,60.4,61.7,61.2,60.7,61.1,60.6,60.4],
[60.3,61.6,62.1,62.6,62.3,60.2,60.0,60.2,59.9,60.1,60.0,59.8],
[60.2,61.2,60.6,60.4,61.0,61.2,60.6,60.8,60.3,60.4,60.0,59.4],
[58.8,59.2,59.8,59.4,59.2,60.2,60.5,58.0,57.0,58.2,58.8,58.6],
[58.0,57.2,57.6,56.8,56.6,57.0,56.5,56.2,56.4,56.0,55.9,55.8]];
const dbA = [
[51.2,49.0,48.2,47.6,48.4,47.2,47.8,46.8,47.4,46.6,47.0,46.4],
[46.0,45.4,46.2,45.0,44.6,45.4,44.2,45.0,43.8,44.4,45.2,49.8],
[44.0,50.5,42.0,40.8,41.6,40.6,41.4,48.6,42.8,43.6,42.6,43.4],
[43.8,42.8,44.2,43.2,42.6,43.6,46.0,43.0,44.0,43.4,49.4,45.8],
[44.8,45.6,46.4,47.2,46.6,47.8,46.2,47.0,46.4,47.4,46.8,47.6],
[49.0,52.2,52.4,51.8,51.3,50.6,51.0,51.8,52.7,53.3,52.4,51.6],
[51.8,52.6,55.0,60.0,54.5,53.3,61.1,57.5,54.3,54.1,53.8,55.0],
[61.1,54.0,53.8,54.4,55.0,54.2,55.2,54.6,55.8,56.6,55.0,54.6],
[55.2,55.8,56.9,55.6,55.0,55.4,54.8,55.6,56.2,56.4,55.2,54.8],
[54.4,53.3,54.2,55.0,55.6,55.2,55.8,55.0,54.6,55.4,59.4,58.0],
[55.5,55.0,54.8,55.6,55.2,54.4,54.2,55.4,55.8,56.6,55.6,56.2],
[57.0,60.2,56.2,53.8,54.6,55.4,55.0,55.6,54.8,55.2,55.8,56.2],
[56.1,57.2,55.6,55.2,56.9,54.8,54.4,54.1,55.2,55.0,54.6,55.8],
[59.0,56.4,55.5,55.2,55.6,55.8,55.2,55.4,56.6,55.8,54.8,54.2],
[54.0,58.0,56.6,55.5,55.0,54.2,54.6,55.2,54.8,55.0,54.5,54.8],
[55.4,59.0,55.0,54.4,54.6,53.9,54.4,55.2,56.5,55.6,55.1,54.8],
[54.9,55.2,55.0,54.8,54.4,55.0,54.8,57.4,56.0,55.2,57.7,55.4],
[54.4,54.8,55.2,56.3,55.0,54.2,54.6,55.2,54.8,54.2,53.8,54.2],
[55.0,54.6,54.8,55.4,56.6,54.6,54.0,53.6,53.3,53.8,54.0,53.8],
[53.6,53.2,52.8,52.7,53.4,54.2,56.3,55.0,54.4,54.0,53.3,54.6],
[55.8,56.6,55.5,54.2,53.4,53.6,53.2,53.5,53.3,53.6,53.4,53.6],
[53.8,53.6,53.2,54.2,56.1,52.6,55.5,54.4,53.6,55.3,54.0,53.2],
[51.6,53.8,52.6,51.8,52.4,52.2,52.0,51.6,51.8,52.6,55.5,50.8],
[52.8,51.4,50.8,51.2,51.6,52.0,52.7,50.6,50.0,50.4,49.6,49.0]];
const envLo = [
[58.8,58.5,58.2,58.0,57.8,58.2,57.9,58.0,57.6,58.3,57.8,57.7],
[57.5,57.8,57.4,57.6,57.3,57.5,57.8,57.2,57.0,56.8,57.2,57.6],
[57.0,57.8,56.6,56.2,56.0,55.8,56.2,56.6,55.9,55.7,56.0,56.2],
[56.0,56.3,56.5,56.2,55.8,56.4,56.0,55.7,56.1,56.0,56.8,56.5],
[56.4,56.8,56.6,57.0,56.8,57.2,57.0,56.9,57.2,57.4,57.0,57.5],
[57.8,58.4,58.8,58.2,58.0,58.4,58.6,58.8,59.2,58.6,58.4,58.8],
[58.6,59.2,59.8,60.5,59.6,59.0,60.8,60.2,59.8,59.4,59.6,59.9],
[60.6,59.8,59.6,60.2,60.0,59.7,60.3,60.1,60.5,61.0,60.4,60.0],
[60.4,60.8,61.2,60.6,60.2,60.7,60.5,61.0,60.6,60.9,60.4,60.2],
[60.0,60.3,60.6,60.1,60.5,60.8,60.3,60.7,60.4,61.0,61.8,61.4],
[60.5,60.2,60.4,60.8,60.3,60.6,60.2,60.9,61.0,60.5,60.6,60.8],
[61.2,62.0,60.8,59.8,60.2,60.5,60.3,60.6,60.8,60.4,60.9,61.3],
[61.8,61.0,60.4,60.1,59.8,60.4,60.6,60.2,59.6,59.9,60.5,61.0],
[61.2,61.4,60.8,60.3,59.9,59.7,59.8,59.6,60.2,59.8,59.5,59.9],
[60.0,60.3,59.9,59.7,60.2,60.4,59.6,59.9,60.1,59.8,59.4,60.5],
[60.6,60.3,59.9,59.6,59.8,59.4,59.7,60.1,60.5,60.0,59.7,60.1],
[60.2,59.8,59.7,59.4,59.6,59.8,60.4,60.0,59.5,59.2,59.6,59.8],
[59.5,59.3,59.8,59.6,59.2,59.5,59.8,59.4,59.1,59.7,59.5,59.2],
[59.4,59.1,59.2,59.3,58.9,59.0,59.2,58.7,58.3,59.0,59.5,58.8],
[58.2,58.8,59.2,58.6,58.0,57.8,59.1,58.6,58.1,58.5,58.0,57.8],
[57.7,59.0,59.5,60.0,59.7,57.6,57.4,57.6,57.3,57.5,57.4,57.2],
[57.6,58.6,58.0,57.8,58.4,58.6,58.0,58.2,57.7,57.8,57.4,56.8],
[56.2,56.6,57.2,56.8,56.6,57.6,57.9,55.4,54.4,55.6,56.2,56.0],
[55.4,54.6,55.0,54.2,54.0,54.4,53.9,53.6,53.8,53.4,53.2,53.4]];
const envHi = [
[72.0,62.4,66.5,62.0,64.8,61.9,65.6,62.2,63.8,61.8,65.0,62.0],
[61.8,64.6,61.4,66.2,61.6,63.8,61.2,65.0,61.0,66.4,61.2,63.6],
[62.2,68.8,60.8,63.6,60.4,64.8,60.6,78.8,60.2,63.4,60.4,62.8],
[60.6,64.2,73.8,60.6,64.6,60.4,63.0,60.6,66.4,60.2,70.5,62.8],
[61.0,65.4,61.2,69.0,61.4,73.5,61.4,66.8,61.6,68.2,61.6,64.8],
[63.2,70.5,63.4,72.0,63.0,68.4,62.8,71.2,73.0,63.6,67.8,63.4],
[63.4,69.6,71.4,77.7,65.0,70.0,80.0,75.2,65.0,70.6,64.8,68.8],
[76.5,65.0,72.4,65.2,70.8,65.0,71.6,65.4,73.6,66.8,70.0,65.2],
[65.4,72.0,66.2,70.8,65.6,69.4,65.8,73.0,65.6,74.8,83.3,65.8],
[65.2,71.4,65.6,68.4,65.4,72.6,65.4,69.6,65.6,72.2,78.0,67.2],
[65.6,68.8,73.0,65.6,71.6,65.4,70.4,72.8,65.8,71.0,75.6,65.8],
[66.4,79.0,66.0,72.0,65.2,68.8,73.4,65.6,71.8,65.4,72.4,75.8],
[67.6,66.0,72.6,65.8,74.2,65.6,71.6,66.0,69.8,77.5,66.0,83.3],
[74.0,66.6,72.4,65.8,71.8,65.4,69.6,73.2,75.6,65.6,71.6,65.6],
[72.2,65.8,71.4,73.6,75.2,65.8,76.0,65.6,72.0,74.6,65.4,71.2],
[66.2,72.8,65.6,71.2,73.2,65.4,72.0,65.8,71.4,65.8,72.6,65.8],
[71.0,65.6,74.6,65.4,71.8,76.4,66.0,72.6,65.4,71.2,65.2,71.6],
[73.6,65.0,74.2,75.0,65.2,69.8,81.9,74.8,65.0,72.8,65.2,74.0],
[71.0,64.8,72.2,75.0,64.6,71.8,64.8,70.6,64.2,71.4,72.6,64.6],
[64.0,70.8,72.4,64.4,68.8,63.6,72.0,64.4,70.6,64.2,70.2,72.6],
[63.6,72.2,73.4,65.8,73.8,63.2,70.4,78.4,62.8,70.6,62.8,71.6],
[63.2,77.6,63.4,72.2,81.9,64.2,79.2,63.6,68.8,72.6,62.8,70.4],
[61.8,70.6,62.6,71.2,62.2,72.6,63.4,70.0,60.4,68.6,71.4,79.8],
[60.8,69.8,60.2,70.6,76.4,74.2,59.8,68.2,71.6,72.4,59.2,67.0]];

// ---- build series data: x = minutes since start, spread evenly within each hour row ----
function pts(rows){ return rows.flatMap((r,h)=>r.map((v,j)=>[h*60 + j*60/r.length, v])); }
const envPts = envLo.flatMap((r,h)=>r.map((v,j)=>[h*60 + j*60/r.length, v, envHi[h][j]]));

const PLUS = 'path://M2,0H3V2H5V3H3V5H2V3H0V2H2Z';

function xAxis(gi, labels){
  return {
    type:'value', gridIndex:gi, min:0, max:1440, interval:120,
    axisLine:{show:true, onZero:false, lineStyle:{color:'#000', width:1.5}},
    axisTick:{show:true, length:7, lineStyle:{color:'#000', width:1}},
    minorTick:{show:true, splitNumber:4, length:3.5, lineStyle:{color:'#000', width:1}},
    axisLabel:{fontFamily:FONT, fontSize:7.8, color:'#222', margin:10,
      formatter:v=>labels[Math.round(v/120)]},
    splitLine:{show:true, lineStyle:{color:'#a9a9a9', width:1.2}},
    minorSplitLine:{show:true, lineStyle:{color:'#cfc6b2', width:0.8, type:[2,2]}},
    name:'time', nameLocation:'middle', nameGap:26,
    nameTextStyle:{fontFamily:FONT, fontSize:11.5, color:'#000'}
  };
}
function yAxis(gi, pos){
  const left = pos==='left';
  return {
    type:'value', gridIndex:gi, position:pos, min:yMin, max:yMax, interval:yStep,
    axisLine:{show:true, onZero:false, lineStyle:{color:'#000', width:1.5}},
    axisTick:{show:true, length:8, lineStyle:{color:'#000', width:1}},
    minorTick:{show:true, splitNumber:4, length:3.5, lineStyle:{color:'#000', width:1}},
    axisLabel:{fontFamily:FONT, fontSize:7.8, color:'#222', margin:left?13:12},
    splitLine:{show:left, lineStyle:{color:'#acacac', width:1.6}},
    minorSplitLine:{show:left, lineStyle:{color:'#b9b9b9', width:0.8, type:[3,2]}},
    name:'dB SPL', nameLocation:'middle', nameRotate:90, nameGap:left?35:31,
    nameTextStyle:{fontFamily:FONT, fontSize:11.5, color:'#000'}
  };
}
const FACE = '#FEF6DC';
const option = {
  animation:false,
  backgroundColor:'#ffffff',
  title:[
    {text:mainTitle, left:24, top:11, padding:0,
     textStyle:{fontFamily:FONT, fontSize:13.8, fontWeight:'bold', lineHeight:15.5, color:'#000'}},
    {text:topTitle, left:59, top:64, padding:0,
     textStyle:{fontFamily:FONT, fontSize:11.6, fontWeight:'bold', lineHeight:14, color:'#000'}},
    {text:bottomTitle, left:59, top:625.5, padding:0,
     textStyle:{fontFamily:FONT, fontSize:11.6, fontWeight:'bold', lineHeight:14, color:'#000'}}
  ],
  grid:[
    {left:59, right:57, top:84, height:504, show:true, backgroundColor:FACE, borderColor:'#000', borderWidth:1.5},
    {left:59, right:57, top:645, height:504, show:true, backgroundColor:FACE, borderColor:'#000', borderWidth:1.5}
  ],
  xAxis:[xAxis(0, xLabelsTop), xAxis(1, xLabelsBottom)],
  yAxis:[yAxis(0,'left'), yAxis(0,'right'), yAxis(1,'left'), yAxis(1,'right')],
  graphic:[
    {type:'rect', z:100, shape:{x:2155, y:542, width:183, height:41, r:3},
     style:{fill:'rgba(254,246,222,0.85)', stroke:'#d9c6a0', lineWidth:1}},
    {type:'rect', z:100, shape:{x:2277, y:1103, width:61, height:41, r:3},
     style:{fill:'rgba(254,246,222,0.85)', stroke:'#d9c6a0', lineWidth:1}}
  ],
  legend:[
    {z:110, left:2157.5, top:545, orient:'vertical', padding:0, itemGap:2, itemWidth:23, itemHeight:5,
     selectedMode:false, textStyle:{fontFamily:FONT, fontSize:9.6, color:'#000'},
     data:[{name:'peak dB(Z)', icon:'circle'},{name:'peak dB(C)', icon:'circle'},{name:'peak dB(A)', icon:'circle'}]},
    {z:110, left:2257, top:545, orient:'vertical', padding:0, itemGap:2, itemWidth:23, itemHeight:5,
     selectedMode:false, lineStyle:{width:4}, textStyle:{fontFamily:FONT, fontSize:9.6, color:'#000'},
     data:['avg dB(Z)','avg dB(C)','avg dB(A)']},
    {z:110, left:2279, top:1106, orient:'vertical', padding:0, itemGap:2, itemWidth:22, itemHeight:5,
     selectedMode:false, lineStyle:{width:4}, textStyle:{fontFamily:FONT, fontSize:9.6, color:'#000'},
     data:['dB(Z)','dB(C)','dB(A)']}
  ],
  series:[
    {name:'peak dB(Z)', type:'scatter', xAxisIndex:0, yAxisIndex:0, symbol:PLUS, symbolSize:5,
     itemStyle:{color:'rgba(30,144,255,0.85)'}, data:pts(peakZ), silent:true},
    {name:'peak dB(C)', type:'scatter', xAxisIndex:0, yAxisIndex:0, symbol:PLUS, symbolSize:5,
     itemStyle:{color:'rgba(255,0,255,0.85)'}, data:pts(peakC), silent:true},
    {name:'peak dB(A)', type:'scatter', xAxisIndex:0, yAxisIndex:0, symbol:PLUS, symbolSize:5,
     itemStyle:{color:'rgba(46,139,87,0.85)'}, data:pts(peakA), silent:true},
    {name:'avg dB(Z)', type:'line', xAxisIndex:0, yAxisIndex:0, symbol:'none', showSymbol:false,
     lineStyle:{color:'#4682B4', width:1.6}, itemStyle:{color:'#4682B4'}, data:pts(avgZ), silent:true},
    {name:'avg dB(C)', type:'line', xAxisIndex:0, yAxisIndex:0, symbol:'none', showSymbol:false,
     lineStyle:{color:'#DA70D6', width:1.6}, itemStyle:{color:'#DA70D6'}, data:pts(avgC), silent:true},
    {name:'avg dB(A)', type:'line', xAxisIndex:0, yAxisIndex:0, symbol:'none', showSymbol:false,
     lineStyle:{color:'#9ACD32', width:1.6}, itemStyle:{color:'#9ACD32'}, data:pts(avgA), silent:true},

    {name:'envelope', type:'custom', xAxisIndex:1, yAxisIndex:2, silent:true, clip:true, z:1,
     data:[[720, 60]],
     renderItem:(params, api)=>{
       const upper = envPts.map(p=>api.coord([p[0], p[2]]));
       const lower = envPts.map(p=>api.coord([p[0], p[1]])).reverse();
       return {type:'polygon', shape:{points:upper.concat(lower)},
               style:{fill:'rgba(220,20,60,0.14)', stroke:null}};
     }},
    {name:'dB(Z)', type:'line', xAxisIndex:1, yAxisIndex:2, symbol:'none', showSymbol:false,
     lineStyle:{color:'#DC143C', width:2}, itemStyle:{color:'#DC143C'}, data:pts(dbZ), silent:true},
    {name:'dB(C)', type:'line', xAxisIndex:1, yAxisIndex:2, symbol:'none', showSymbol:false,
     lineStyle:{color:'#FF8C00', width:2}, itemStyle:{color:'#FF8C00'}, data:pts(dbC), silent:true},
    {name:'dB(A)', type:'line', xAxisIndex:1, yAxisIndex:2, symbol:'none', showSymbol:false,
     lineStyle:{color:'#FFD700', width:1.8}, itemStyle:{color:'#FFD700'}, data:pts(dbA), silent:true}
  ]
};
const chart = echarts.init(document.getElementById('c'), null, {renderer:'canvas'});
chart.setOption(option);
</script>
</body></html>
